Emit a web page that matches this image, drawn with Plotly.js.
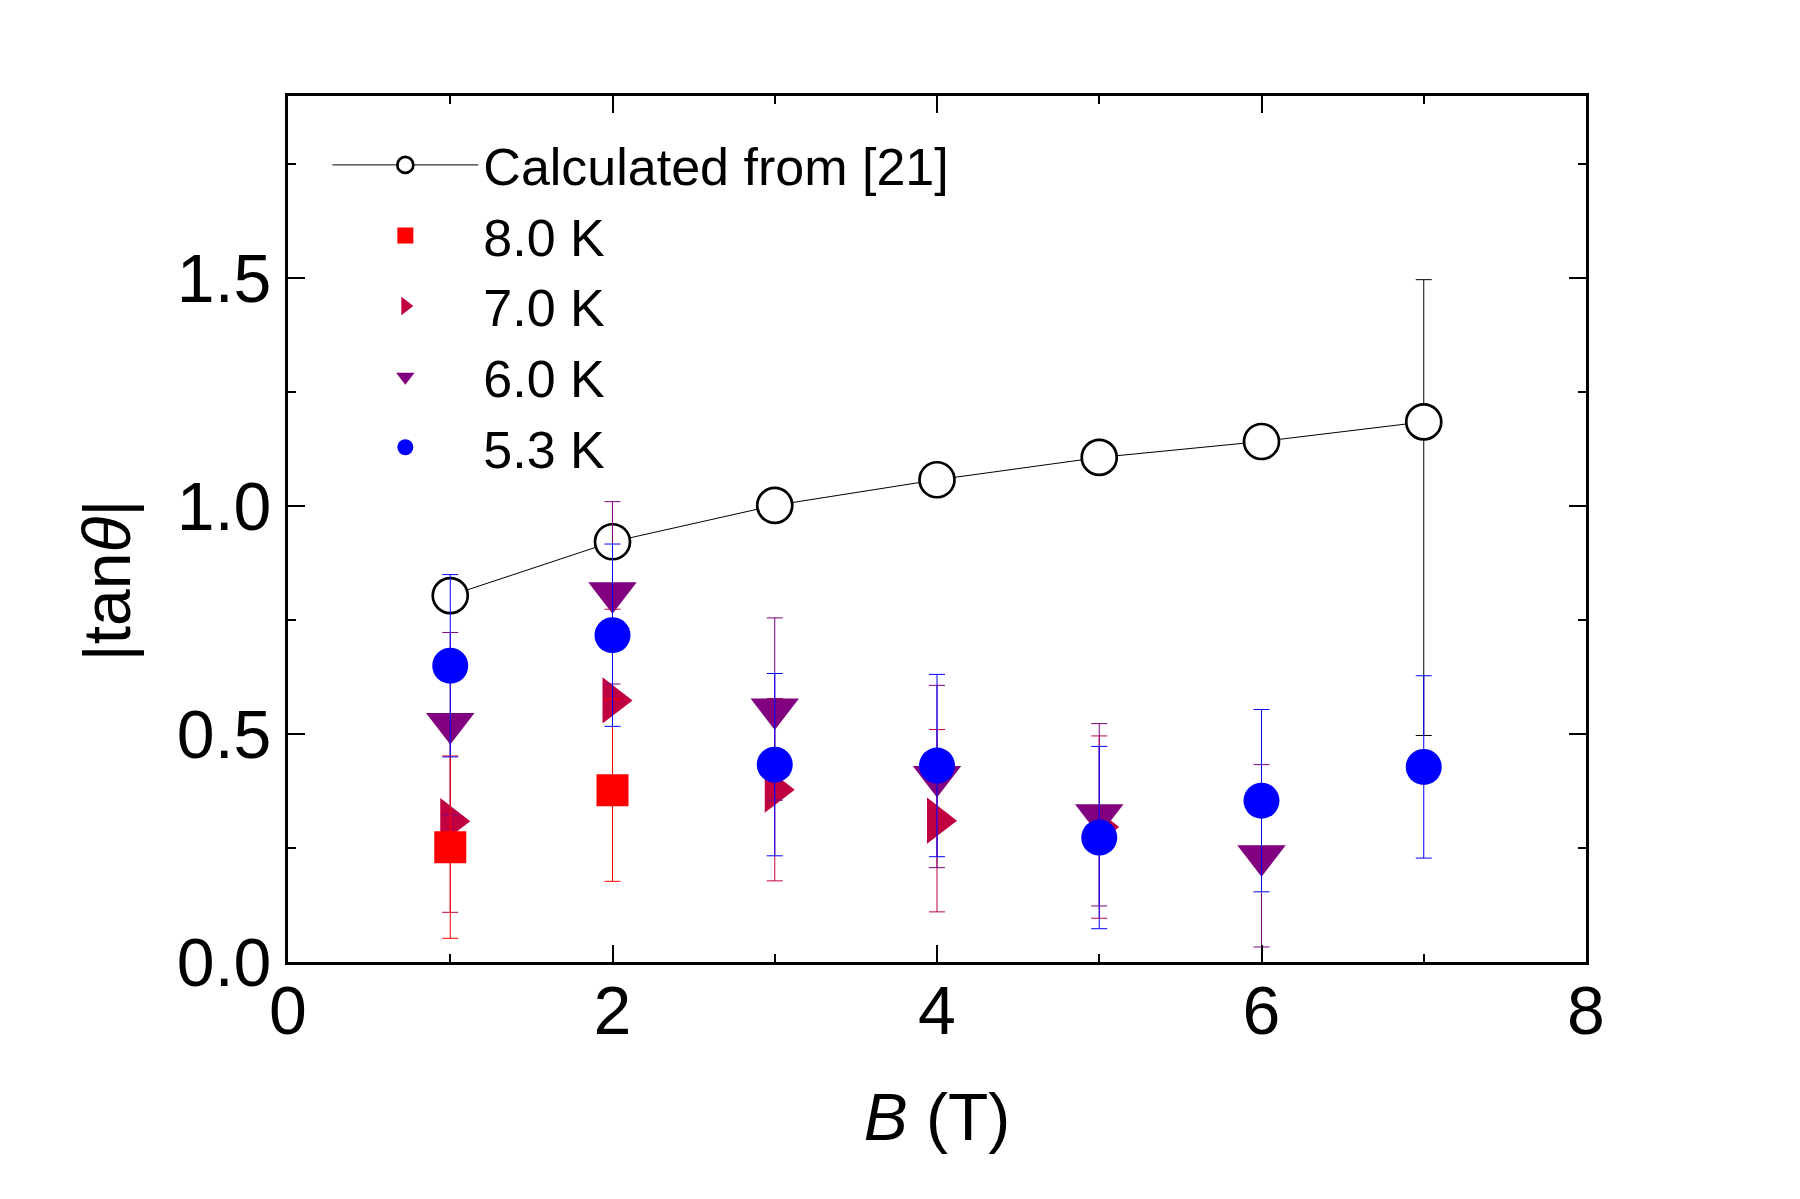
<!DOCTYPE html>
<html>
<head>
<meta charset="utf-8">
<script src="https://cdn.plot.ly/plotly-3.0.1.min.js"></script>
<style>
  html, body { margin: 0; padding: 0; background: #fff; }
  #divPlot { width: 1800px; height: 1199px; }
</style>
</head>
<body>
<div id="divPlot"></div>
<script>
// magnetic field B (T)
const fieldB = [1, 2, 3, 4, 5, 6, 7];

// |tan theta| calculated from [21]
const calcY = [0.804, 0.922, 1.002, 1.058, 1.107, 1.142, 1.185];
const calcErrUp = [null, null, null, null, null, null, 0.312];
const calcErrDown = [null, null, null, null, null, null, 0.688];

// measured |tan theta| at each temperature
const b80 = [1, 2];
const y80 = [0.252, 0.377];
const e80 = [0.2, 0.2];

const b70 = [1, 2, 3, 4, 5];
const y70 = [0.309, 0.574, 0.378, 0.310, 0.296];
const e70 = [0.2, 0.2, 0.2, 0.2, 0.2];

const b60 = [1, 2, 3, 4, 5, 6];
const y60 = [0.523, 0.810, 0.555, 0.407, 0.323, 0.233];
const e60 = [0.2, 0.2, 0.2, 0.2, 0.2, 0.2];

const b53 = [1, 2, 3, 4, 5, 6, 7];
const y53 = [0.650, 0.717, 0.433, 0.431, 0.273, 0.354, 0.428];
const e53 = [0.2, 0.2, 0.2, 0.2, 0.2, 0.2, 0.2];

const FONT = 'Liberation Sans, Arial, sans-serif';

function errBars(arr, color) {
  return {type : 'data', array : arr, visible : true, color : color,
          thickness : 1, width : 8};
}

// white-filled ring so the line and its own bar stop at the circle
const traceCalc = {
  x : fieldB,
  y : calcY,
  mode : 'lines+markers',
  line : {color : 'black', width : 1},
  marker : {symbol : 'circle', size : 35, color : 'white',
            line : {color : 'black', width : 2.7}},
  error_y : {type : 'data', symmetric : false, array : calcErrUp,
             arrayminus : calcErrDown, visible : true, color : 'black',
             thickness : 1, width : 8},
  type : 'scatter',
  name : 'Calculated from [21]',
  legendrank : 1
};

const trace70 = {
  x : b70,
  y : y70,
  mode : 'markers',
  marker : {symbol : 'triangle-right', size : 40, color : '#C00040'},
  error_y : errBars(e70, '#C00040'),
  type : 'scatter',
  name : '7.0 K',
  legendrank : 3
};

const trace60 = {
  x : b60,
  y : y60,
  mode : 'markers',
  marker : {symbol : 'triangle-down', size : 42, color : '#800080'},
  error_y : errBars(e60, '#800080'),
  type : 'scatter',
  name : '6.0 K',
  legendrank : 4
};

const trace80 = {
  x : b80,
  y : y80,
  mode : 'markers',
  marker : {symbol : 'square', size : 32, color : '#FF0000'},
  error_y : errBars(e80, '#FF0000'),
  type : 'scatter',
  name : '8.0 K',
  legendrank : 2
};

const trace53 = {
  x : b53,
  y : y53,
  mode : 'markers',
  marker : {symbol : 'circle', size : 36, color : '#0000FF'},
  error_y : errBars(e53, '#0000FF'),
  type : 'scatter',
  name : '5.3 K',
  legendrank : 5
};

const axisCommon = {
  showgrid : false,
  zeroline : false,
  showline : true,
  linecolor : 'black',
  linewidth : 3,
  mirror : 'allticks',
  ticks : 'inside',
  ticklen : 17,
  tickwidth : 2,
  tickcolor : 'black',
  tickfont : {family : FONT, size : 68, color : 'black'}
};

const layout = {
  width : 1800,
  height : 1199,
  paper_bgcolor : 'white',
  plot_bgcolor : 'white',
  margin : {l : 288, r : 214, t : 96, b : 237},
  showlegend : true,
  legend : {
    x : 0.0303, y : 0.967, xanchor : 'left', yanchor : 'top',
    bgcolor : 'rgba(0,0,0,0)',
    font : {family : FONT, size : 52, color : 'black'},
    itemwidth : 146
  },
  xaxis : Object.assign({}, axisCommon, {
    range : [0, 8],
    dtick : 2,
    tick0 : 0,
    ticklabelstandoff : -13,
    minor : {dtick : 1, ticks : 'inside', ticklen : 8, tickwidth : 2,
             tickcolor : 'black'},
    title : {text : '<i>B</i> (T)', standoff : 48,
             font : {family : FONT, size : 66, color : 'black'}}
  }),
  yaxis : Object.assign({}, axisCommon, {
    range : [0, 1.9],
    dtick : 0.5,
    tick0 : 0,
    tickformat : '.1f',
    minor : {dtick : 0.25, ticks : 'inside', ticklen : 8, tickwidth : 2,
             tickcolor : 'black'}
  }),
  annotations : [ {
    text : '|tan<i>θ</i>|',
    xref : 'paper', yref : 'paper',
    x : -0.1398, y : 0.44,
    xanchor : 'center', yanchor : 'middle',
    textangle : -90,
    showarrow : false,
    font : {family : FONT, size : 66, color : 'black'}
  } ]
};

const data = [ traceCalc, trace70, trace60, trace80, trace53 ];
Plotly.newPlot('divPlot', data, layout, {displayModeBar : false});
</script>
</body>
</html>
